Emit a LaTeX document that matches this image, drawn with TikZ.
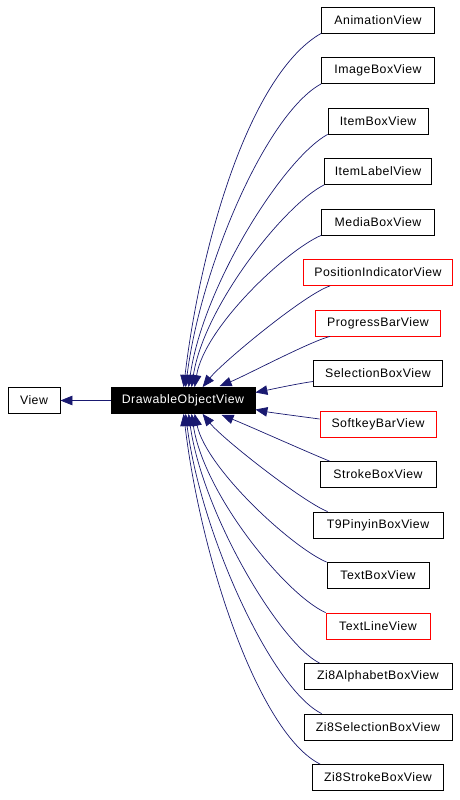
\documentclass[tikz,border=0pt]{standalone}
\usepackage{fontspec}
\setmainfont{Liberation Sans}[LetterSpace=4]
\usetikzlibrary{arrows.meta,positioning}
\definecolor{edgeblue}{HTML}{191970}
\tikzset{
  cls/.style={draw=black, line width=0.8pt, minimum height=26pt, inner sep=0pt,
    font=\fontsize{12.3}{14}\selectfont},
  undoc/.style={cls, draw=red},
  edge/.style={draw=edgeblue, line width=0.7pt, -{Triangle[length=12pt,width=9.5pt]}},
}

\begin{document}
\begin{tikzpicture}[x=1pt, y=-1pt, node distance=50.5pt]
    \useasboundingbox (0,0) rectangle (459,800);

    % base classes
    \node[cls, fill=black, text=white, minimum width=144pt] (dov) at (183,400.5) {DrawableObjectView};
    \node[cls, minimum width=52pt] (view) [left of=dov, node distance=149pt] {View};

    % derived classes
    \node[cls, minimum width=113pt] (anim) at (378,20) {AnimationView};
    \node[cls, minimum width=113pt] (image) [below of=anim] {ImageBoxView};
    \node[cls, minimum width=100pt] (item) [below of=image] {ItemBoxView};
    \node[cls, minimum width=107pt] (label) [below of=item] {ItemLabelView};
    \node[cls, minimum width=113pt] (media) [below of=label] {MediaBoxView};
    \node[undoc, minimum width=149pt] (posind) [below of=media] {PositionIndicatorView};
    \node[undoc, minimum width=125pt] (progress) [below of=posind] {ProgressBarView};
    \node[cls, minimum width=129pt] (sel) [below of=progress] {SelectionBoxView};
    \node[undoc, minimum width=116pt] (softkey) [below of=sel] {SoftkeyBarView};
    \node[cls, minimum width=116pt] (stroke) [below of=softkey] {StrokeBoxView};
    \node[cls, minimum width=130pt] (pinyin) [below of=stroke] {T9PinyinBoxView};
    \node[cls, minimum width=102pt] (textbox) [below of=pinyin] {TextBoxView};
    \node[undoc, minimum width=104pt] (textline) [below of=textbox] {TextLineView};
    \node[cls, minimum width=148pt] (zialpha) [below of=textline] {Zi8AlphabetBoxView};
    \node[cls, minimum width=148pt] (zisel) [below of=zialpha] {Zi8SelectionBoxView};
    \node[cls, minimum width=131pt] (zistroke) [below of=zisel] {Zi8StrokeBoxView};

    \draw[edge] (dov) -- (view);

    % upper fan
    \draw[edge] (anim.south west) .. controls +(-70,40) and +(18,-150) .. ([xshift=73pt]dov.north west);
    \draw[edge] (image.south west) .. controls +(-55,30) and +(15,-120) .. ([xshift=75pt]dov.north west);
    \draw[edge] (item.south west) .. controls +(-45,25) and +(14,-100) .. ([xshift=78pt]dov.north west);
    \draw[edge] (label.south west) .. controls +(-40,20) and +(12,-80) .. ([xshift=81pt]dov.north west);
    \draw[edge] (media.south west) .. controls +(-35,15) and +(10,-60) .. ([xshift=84pt]dov.north west);
    \draw[edge] ([xshift=27pt]posind.south west) .. controls +(-25,8) and +(20,-25) .. ([xshift=92pt]dov.north west);
    \draw[edge] ([xshift=15pt]progress.south west) .. controls +(-20,5) and +(25,-10) .. ([xshift=109pt,yshift=1pt]dov.north west);
    \draw[edge] ([yshift=-8pt]sel.west) .. controls +(-15,2) and +(15,-3) .. ([yshift=8pt]dov.east);

    % lower fan
    \draw[edge] ([yshift=5pt]softkey.west) .. controls +(-15,-2) and +(15,3) .. ([yshift=-9pt]dov.east);
    \draw[edge] ([xshift=10pt]stroke.north west) .. controls +(-20,-8) and +(25,10) .. ([xshift=111pt,yshift=-1pt]dov.south west);
    \draw[edge] ([xshift=15pt]pinyin.north west) .. controls +(-25,-10) and +(20,25) .. ([xshift=92pt]dov.south west);
    \draw[edge] (textbox.north west) .. controls +(-35,-15) and +(12,55) .. ([xshift=84pt]dov.south west);
    \draw[edge] (textline.north west) .. controls +(-40,-18) and +(12,80) .. ([xshift=81pt]dov.south west);
    \draw[edge] ([xshift=16pt]zialpha.north west) .. controls +(-40,-20) and +(14,100) .. ([xshift=78pt]dov.south west);
    \draw[edge] ([xshift=18pt]zisel.north west) .. controls +(-50,-25) and +(15,120) .. ([xshift=75pt]dov.south west);
    \draw[edge] ([xshift=8pt]zistroke.north west) .. controls +(-60,-30) and +(18,150) .. ([xshift=73pt]dov.south west);
\end{tikzpicture}
\end{document}
